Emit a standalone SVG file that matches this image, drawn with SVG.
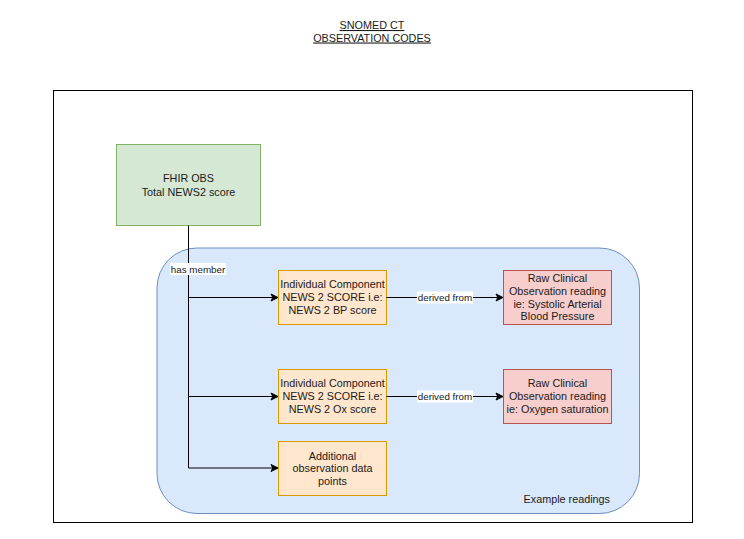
<svg xmlns="http://www.w3.org/2000/svg" width="744" height="539" viewBox="0 0 744 539">
<style>
text{font-family:"Liberation Sans",Arial,sans-serif;font-size:10.8px;fill:#1a1a1a;text-anchor:middle}
.lbl{font-size:9.8px}
.green{fill:#d5e8d4;stroke:#82b366;stroke-width:1}
.orange{fill:#ffe6cc;stroke:#d79b00;stroke-width:1}
.red{fill:#f8cecc;stroke:#b85450;stroke-width:1}
.edge{fill:none;stroke:#000;stroke-width:1}
</style>
<defs>
<marker id="arr" markerUnits="userSpaceOnUse" markerWidth="10" markerHeight="10" refX="8" refY="5" orient="auto">
<path d="M1,1.5 L8,5 L1,8.5 L2.8,5 Z" fill="#000" stroke="#000" stroke-width="1"/>
</marker>
</defs>
<rect width="744" height="539" fill="#fff"/>
<g id="title">
<text x="372" y="29" text-decoration="underline">SNOMED CT</text>
<text x="372" y="41.5" text-decoration="underline">OBSERVATION CODES</text>
</g>
<g id="frame"><rect x="53.5" y="90.5" width="639" height="432" fill="none" stroke="#000" stroke-width="1"/></g>
<g id="example-readings">
<rect x="157" y="248" width="482.5" height="265.5" rx="40" ry="40" fill="#dae8fc" stroke="#6c8ebf" stroke-width="1"/>
<text x="610" y="502.5" style="text-anchor:end">Example readings</text>
</g>
<g id="fhir-obs">
<rect class="green" x="116.5" y="144.5" width="144" height="81"/>
<text x="188.5" y="181.7">FHIR OBS</text>
<text x="188.5" y="195.5">Total NEWS2 score</text>
</g>
<g id="component-bp">
<rect class="orange" x="278.5" y="270.5" width="108" height="54"/>
<text x="332.5" y="288.3">Individual Component</text>
<text x="332.5" y="301.2">NEWS 2 SCORE i.e:</text>
<text x="332.5" y="314">NEWS 2 BP score</text>
</g>
<g id="component-ox">
<rect class="orange" x="278.5" y="369.5" width="108" height="54"/>
<text x="332.5" y="387.3">Individual Component</text>
<text x="332.5" y="400.2">NEWS 2 SCORE i.e:</text>
<text x="332.5" y="413">NEWS 2 Ox score</text>
</g>
<g id="additional">
<rect class="orange" x="278.5" y="441.5" width="108" height="54"/>
<text x="332.5" y="459.7">Additional</text>
<text x="332.5" y="472.4">observation data</text>
<text x="332.5" y="485">points</text>
</g>
<g id="raw-bp">
<rect class="red" x="503.5" y="270.5" width="108" height="54"/>
<text x="557.5" y="282.3">Raw Clinical</text>
<text x="557.5" y="294.8">Observation reading</text>
<text x="557.5" y="307.8">ie: Systolic Arterial</text>
<text x="557.5" y="320.2">Blood Pressure</text>
</g>
<g id="raw-ox">
<rect class="red" x="503.5" y="369.5" width="108" height="54"/>
<text x="557.5" y="387.3">Raw Clinical</text>
<text x="557.5" y="400">Observation reading</text>
<text x="557.5" y="412.7">ie: Oxygen saturation</text>
</g>
<g id="connectors">
<path class="edge" d="M188.5,225.5 V468"/>
<path class="edge" d="M188.5,297.5 H278" marker-end="url(#arr)"/>
<path class="edge" d="M188.5,396.5 H278" marker-end="url(#arr)"/>
<path class="edge" d="M188.5,468 H278" marker-end="url(#arr)"/>
<path class="edge" d="M386.5,297.5 H503" marker-end="url(#arr)"/>
<path class="edge" d="M386.5,396.5 H503" marker-end="url(#arr)"/>
<rect x="170" y="263" width="56" height="12" fill="#fff"/>
<text class="lbl" x="198" y="272.5">has member</text>
<rect x="417" y="291.5" width="56" height="12" fill="#fff"/>
<text class="lbl" x="445" y="301">derived from</text>
<rect x="417" y="390.5" width="56" height="12" fill="#fff"/>
<text class="lbl" x="445" y="400">derived from</text>
</g>
</svg>
